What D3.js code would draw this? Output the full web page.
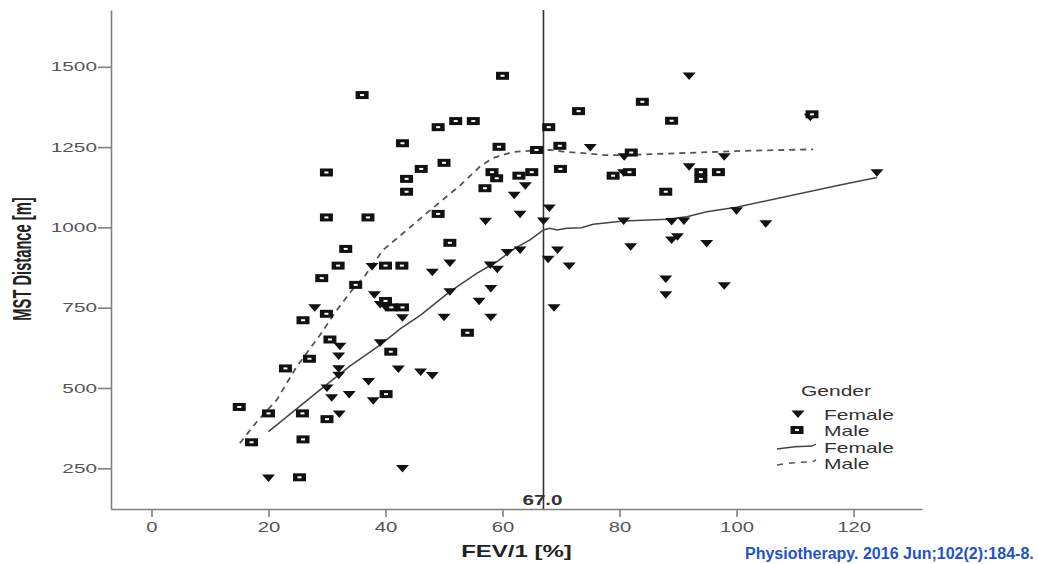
<!DOCTYPE html>
<html>
<head>
<meta charset="utf-8">
<script src="https://cdn.jsdelivr.net/npm/d3@7"></script>
<style>
  body { margin: 0; background: #fff; }
  text { font-family: "Liberation Sans", Arial, sans-serif; }
</style>
</head>
<body>
<div id="chart"></div>
<script>
// axis ticks and cut-off
const xTicks = [0, 20, 40, 60, 80, 100, 120];
const yTicks = [250, 500, 750, 1000, 1250, 1500];
const cutoff = 67.0;

// FEV1 [%] vs MST distance [m]
const femalePoints = [
  [20, 220], [27.9, 750], [32.2, 630], [32, 600], [32, 560], [32, 540], [30, 500], [30.8, 470],
  [33.8, 480], [32.1, 419], [38.1, 790], [39.1, 760], [40, 752], [42.9, 719], [39.1, 641],
  [42.2, 559], [37.1, 520], [37.9, 460], [42.9, 249], [37.7, 878], [51, 889], [48, 860],
  [57.9, 883], [59.1, 870], [60.8, 922], [63, 930], [67.8, 901], [69.4, 930], [51, 800],
  [58, 810], [56, 770], [58, 720], [50, 720], [68.8, 750], [46, 550], [48, 539], [63.9, 1130],
  [62, 1100], [63, 1041], [57.1, 1019], [68, 1060], [67, 1020], [91.9, 1471], [112.6, 1343],
  [75, 1249], [80.8, 1220], [97.9, 1220], [91.9, 1189], [80.7, 1170], [100, 1052], [80.7, 1020],
  [88.9, 1018], [91, 1020], [105, 1011], [81.9, 940], [88.9, 961], [89.9, 971], [94.9, 950],
  [71.4, 880], [87.9, 839], [97.9, 818], [87.9, 790], [124, 1170]
];
const malePoints = [
  [15, 441], [17.1, 331], [20, 421], [22.9, 561], [25.9, 711], [27, 591], [29.9, 731], [30.5, 651],
  [25.8, 421], [30, 403], [25.9, 340], [25.3, 222], [29.1, 842], [34.9, 821], [40, 771], [41, 751],
  [42.9, 751], [40.9, 613], [40.1, 481], [36, 1412], [42.9, 1262], [29.9, 1171], [43.6, 1151],
  [43.6, 1111], [29.9, 1031], [37, 1031], [33.2, 933], [31.9, 881], [40, 881], [42.8, 881],
  [60, 1472], [52, 1331], [55, 1331], [49, 1312], [67.9, 1312], [59.4, 1251], [65.8, 1241],
  [50, 1201], [46.1, 1182], [58.2, 1172], [59, 1153], [62.8, 1161], [65, 1172], [57, 1122],
  [49, 1042], [51, 952], [54, 672], [69.8, 1254], [69.9, 1182], [83.9, 1391], [73, 1362],
  [112.9, 1352], [88.9, 1332], [82, 1233], [93.9, 1172], [93.9, 1151], [96.9, 1172],
  [78.9, 1161], [81.7, 1172], [87.9, 1111]
];

// loess fit lines
const femaleLoess = [
  [20, 364], [28.8, 494], [33.9, 568], [39.1, 634], [42.5, 684], [46, 727], [51, 800],
  [55.6, 857], [59, 893], [62.1, 935], [64.7, 961], [67, 992], [68.1, 997], [69.3, 992],
  [71, 997], [73.5, 999], [75.5, 1010], [80.7, 1020], [88.1, 1025], [91.5, 1033], [94.9, 1049],
  [100, 1063], [117.7, 1132], [124, 1155]
];
const maleLoess = [
  [15.1, 328], [18, 395], [21.4, 463], [24.8, 566], [28.8, 665], [31.7, 743], [34.5, 810],
  [36.5, 850], [39.6, 930], [43.2, 985], [48.2, 1062], [52.7, 1130], [56.3, 1192], [58.4, 1216],
  [61.8, 1235], [65.8, 1240], [68.1, 1241], [70.4, 1236], [73.8, 1231], [77.5, 1225],
  [80.7, 1225], [85.2, 1228], [92, 1232], [100.6, 1238], [113.1, 1243]
];

const legendLabels = ['Female', 'Male', 'Female', 'Male'];

const svg = d3.select('#chart').append('svg')
  .attr('width', 1038)
  .attr('height', 564)
  .style('background', '#fff');

const x = d3.scaleLinear().domain([-6.92, 131.7]).range([111, 922]);
const y = d3.scaleLinear().domain([123.3, 1676.8]).range([509, 10]);

// the original is stretched sideways, so text gets a horizontal scale
const sx = 1.5;

// axes
const xAxis = svg.append('g')
  .attr('transform', 'translate(0,509)')
  .call(d3.axisBottom(x).tickValues(xTicks).tickSize(8).tickSizeOuter(0).tickFormat(d3.format('d')));
xAxis.selectAll('text')
  .attr('y', 13)
  .attr('transform', 'scale(1.45,1)')
  .style('font-size', '14px')
  .style('fill', '#555');

const yAxis = svg.append('g')
  .attr('transform', 'translate(111,0)')
  .call(d3.axisLeft(y).tickValues(yTicks).tickSize(13).tickSizeOuter(0).tickFormat(d3.format('d')));
yAxis.selectAll('text')
  .attr('x', -14 / 1.6)
  .attr('transform', 'scale(1.6,1)')
  .style('font-size', '13px')
  .style('fill', '#555');

svg.selectAll('.domain, .tick line')
  .attr('stroke', '#808080')
  .attr('stroke-width', 1.6);

// cut-off line
svg.append('line')
  .attr('x1', x(cutoff)).attr('x2', x(cutoff))
  .attr('y1', y.range()[1]).attr('y2', y.range()[0])
  .attr('stroke', '#333')
  .attr('stroke-width', 1.6);

svg.append('text')
  .attr('transform', `translate(${x(cutoff) - 1},505) scale(1.47,1)`)
  .attr('text-anchor', 'middle')
  .style('font-size', '14px')
  .style('font-weight', 'bold')
  .style('fill', '#333')
  .text(cutoff.toFixed(1));

// loess lines
const line = d3.line().x(d => x(d[0])).y(d => y(d[1]));

svg.append('path')
  .datum(femaleLoess)
  .attr('d', line)
  .attr('fill', 'none')
  .attr('stroke', '#444')
  .attr('stroke-width', 1.5);

svg.append('path')
  .datum(maleLoess)
  .attr('d', line)
  .attr('fill', 'none')
  .attr('stroke', '#555')
  .attr('stroke-width', 1.8)
  .attr('stroke-dasharray', '6,5');

// markers
const triPath = 'M-6.5,-3.5L6.5,-3.5L0,4Z';

function drawSquare(g) {
  g.append('rect')
    .attr('x', -6.5).attr('y', -4)
    .attr('width', 13).attr('height', 8)
    .attr('fill', '#111');
  g.append('rect')
    .attr('x', -2).attr('y', -1)
    .attr('width', 4).attr('height', 2)
    .attr('fill', '#fff');
}

svg.append('g').selectAll('path')
  .data(femalePoints)
  .enter().append('path')
  .attr('d', triPath)
  .attr('transform', d => `translate(${x(d[0])},${y(d[1])})`)
  .attr('fill', '#111');

svg.append('g').selectAll('g')
  .data(malePoints)
  .enter().append('g')
  .attr('transform', d => `translate(${x(d[0])},${y(d[1])})`)
  .each(function () { drawSquare(d3.select(this)); });

// axis titles
svg.append('text')
  .attr('transform', `translate(516.5,557) scale(${sx},1)`)
  .attr('text-anchor', 'middle')
  .style('font-size', '16px')
  .style('font-weight', 'bold')
  .style('fill', '#222')
  .text('FEV/1 [%]');

svg.append('text')
  .attr('transform', 'translate(31,259) scale(1.7,1) rotate(-90)')
  .attr('text-anchor', 'middle')
  .style('font-size', '14.7px')
  .style('font-weight', 'bold')
  .style('fill', '#222')
  .text('MST Distance [m]');

// legend
const legend = svg.append('g');
legend.append('text')
  .attr('transform', `translate(836,396) scale(${sx},1)`)
  .attr('text-anchor', 'middle')
  .style('font-size', '14px')
  .style('fill', '#333')
  .text('Gender');

const rowY = [414, 430, 447, 463];
legend.selectAll('text.item')
  .data(legendLabels)
  .enter().append('text')
  .attr('class', 'item')
  .attr('transform', (d, i) => `translate(824,${rowY[i] + 5.5}) scale(${sx},1)`)
  .style('font-size', '14px')
  .style('fill', '#333')
  .text(d => d);

legend.append('path')
  .attr('d', triPath)
  .attr('transform', `translate(798,${rowY[0]})`)
  .attr('fill', '#111');
drawSquare(legend.append('g').attr('transform', `translate(797,${rowY[1]})`));

legend.append('path')
  .attr('d', `M777,${rowY[2] + 2} Q795,${rowY[2] - 1} 812,${rowY[2] - 1} L816,${rowY[2] - 3}`)
  .attr('fill', 'none')
  .attr('stroke', '#444')
  .attr('stroke-width', 1.3);
legend.append('path')
  .attr('d', `M777,${rowY[3] + 2} Q795,${rowY[3] - 1} 812,${rowY[3] - 1} L816,${rowY[3] - 3}`)
  .attr('fill', 'none')
  .attr('stroke', '#555')
  .attr('stroke-width', 1.5)
  .attr('stroke-dasharray', '6,6');

// source note
svg.append('text')
  .attr('x', 745)
  .attr('y', 559)
  .style('font-size', '16px')
  .style('font-weight', 'bold')
  .style('fill', '#1f53c9')
  .text('Physiotherapy. 2016 Jun;102(2):184-8.');
</script>
</body>
</html>
